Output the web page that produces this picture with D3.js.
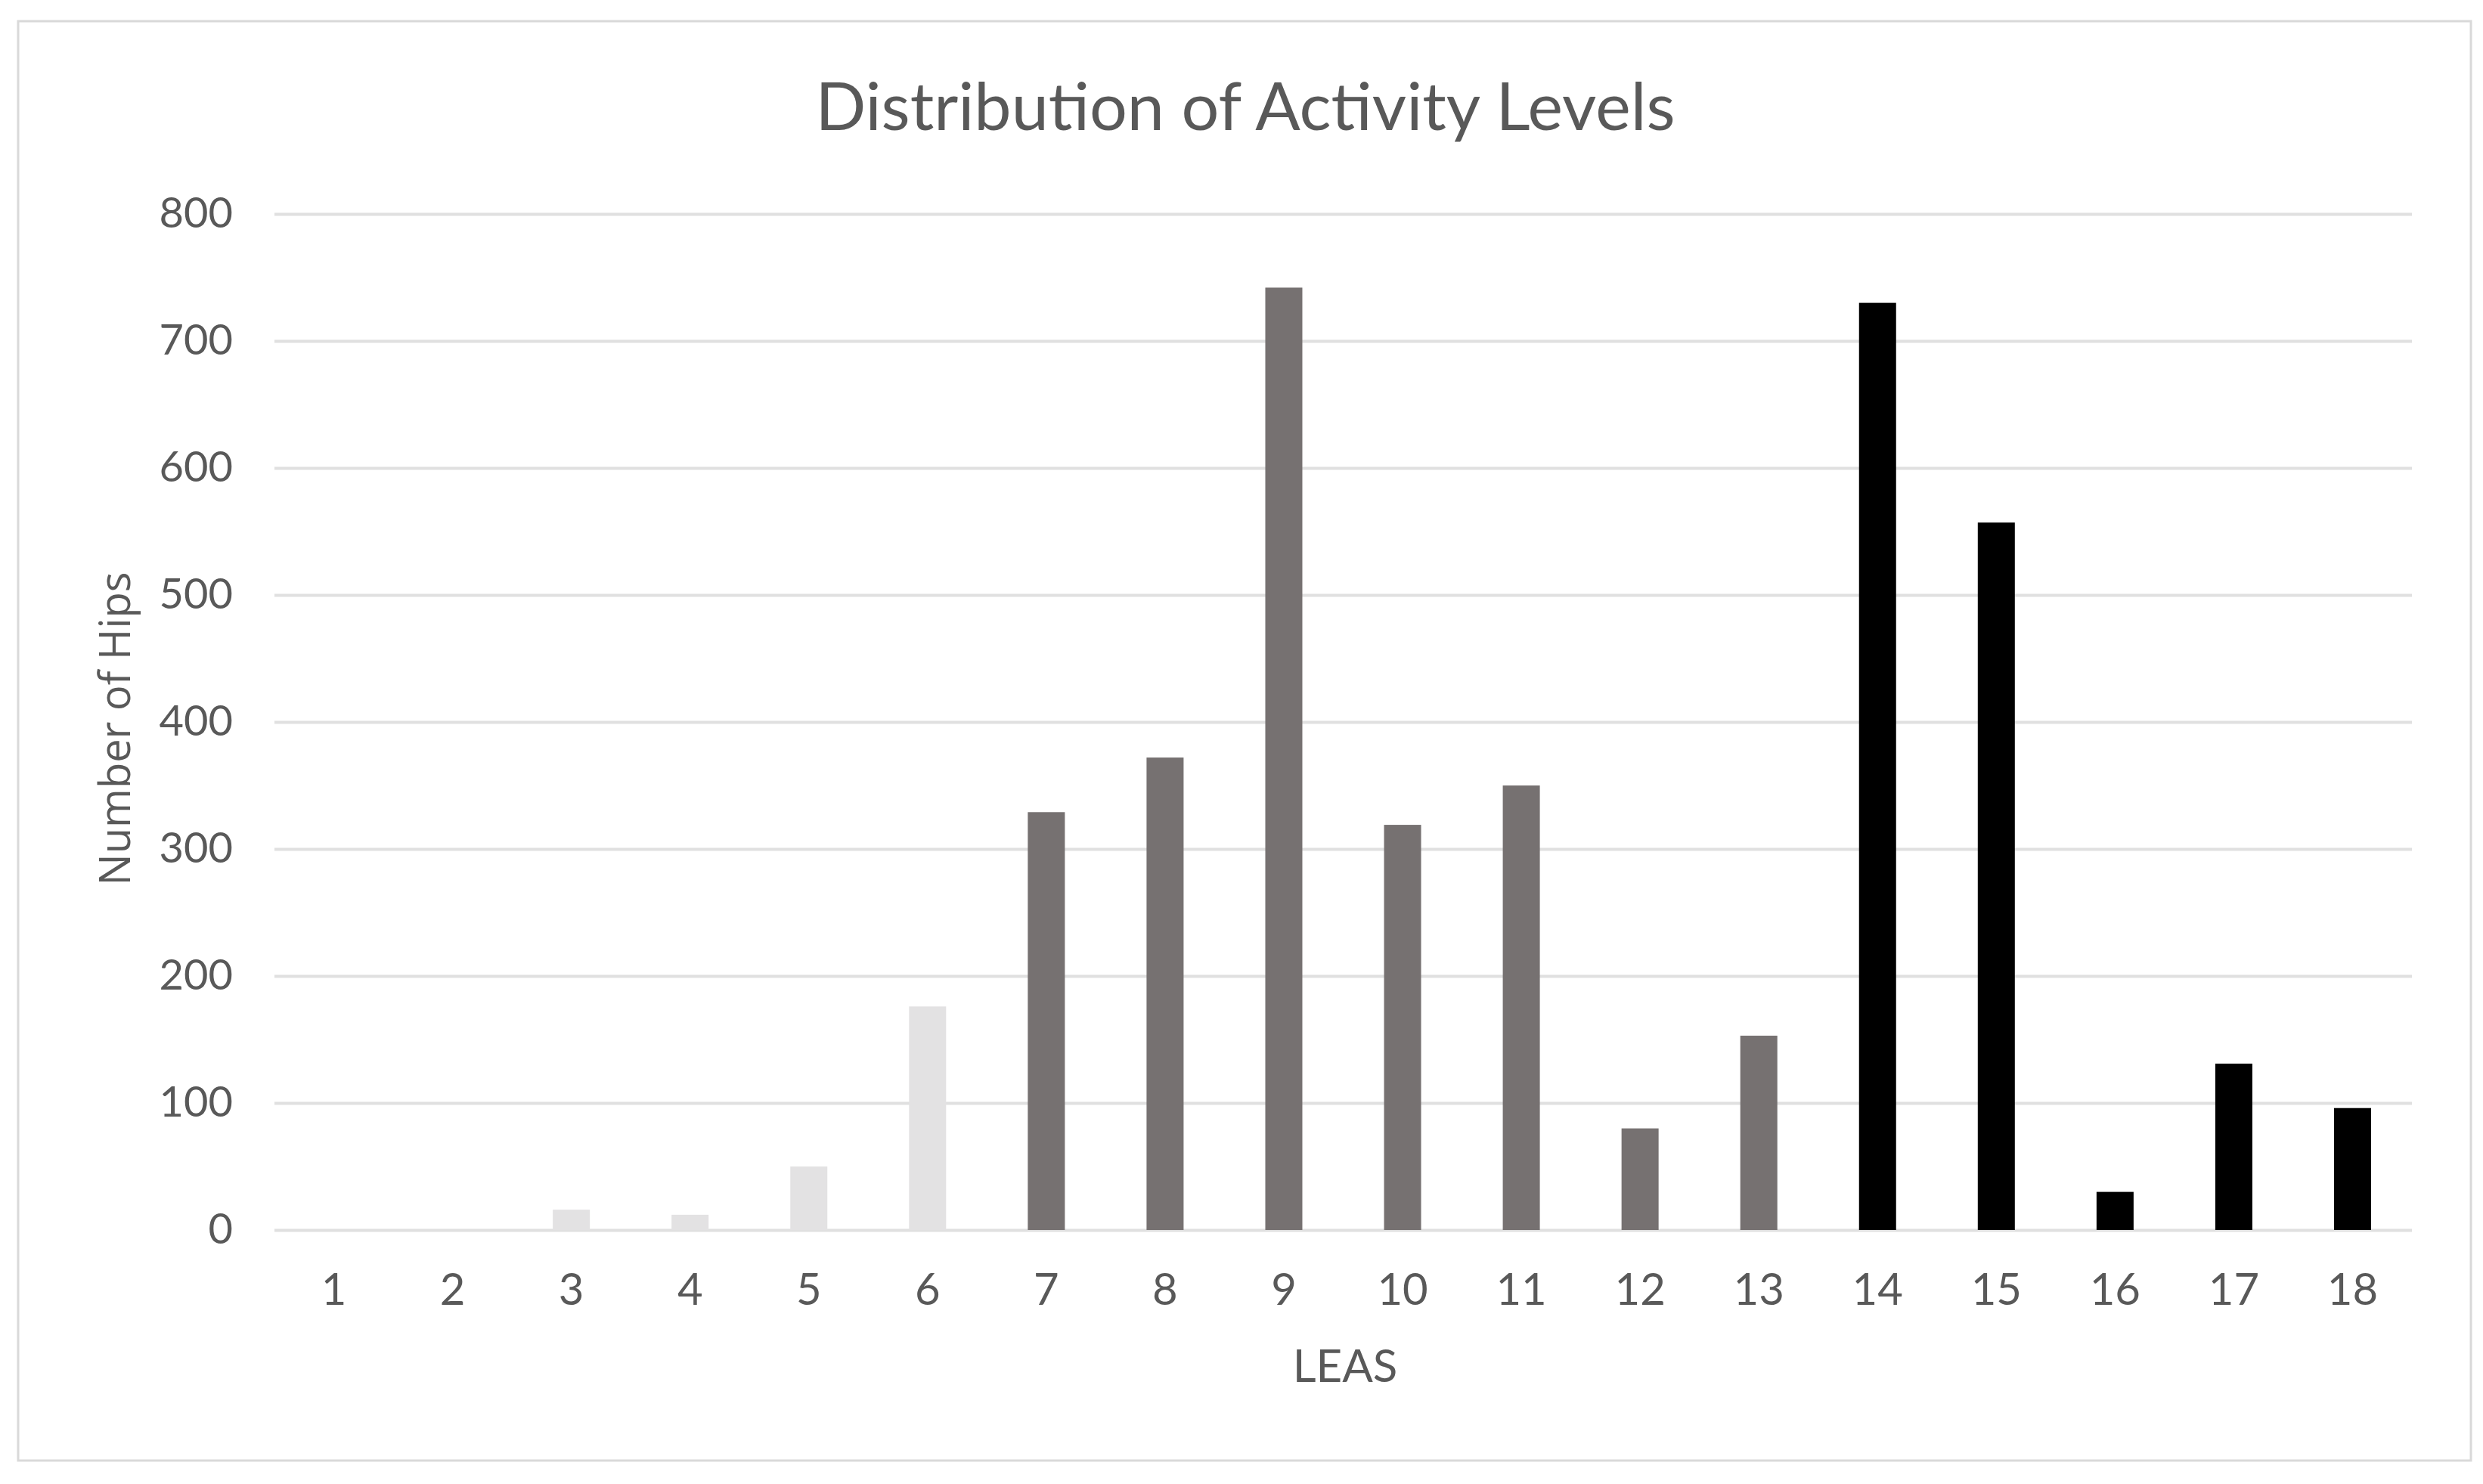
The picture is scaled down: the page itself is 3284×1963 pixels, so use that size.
<!DOCTYPE html>
<html>
<head>
<meta charset="utf-8">
<script src="https://cdn.jsdelivr.net/npm/d3@7"></script>
<style>
  html, body { margin: 0; padding: 0; background: #ffffff; }
  svg { display: block; }
  text { font-family: Lato, "Open Sans", sans-serif; }
</style>
</head>
<body>
<svg id="chart" width="3284" height="1963"></svg>
<script>
// ---- data ----
const categories = ["1","2","3","4","5","6","7","8","9","10","11","12","13","14","15","16","17","18"];
const hips = [0, 0, 16, 12, 50, 176, 329, 372, 742, 319, 350, 80, 153, 730, 557, 30, 131, 96];
const groups = ["low","low","low","low","low","low","mid","mid","mid","mid","mid","mid","mid","high","high","high","high","high"];
const yTicks = [0, 100, 200, 300, 400, 500, 600, 700, 800];
const groupNames = ["low", "mid", "high"];
const groupColors = ["#e3e2e3", "#767171", "#000000"];
const title = "Distribution of Activity Levels";
const xTitle = "LEAS";
const yTitle = "Number of Hips";

// ---- layout ----
const W = 3284, H = 1963;
const plot = { left: 363, right: 3190, top: 283, bottom: 1627 };
const textColor = "#595959";

const svg = d3.select("#chart");

svg.append("rect")
  .attr("x", 0).attr("y", 0).attr("width", W).attr("height", H)
  .attr("fill", "#ffffff");

// outer chart border
svg.append("rect")
  .attr("x", 24).attr("y", 28).attr("width", 3268 - 24).attr("height", 1932 - 28)
  .attr("fill", "none").attr("stroke", "#d9d9d9").attr("stroke-width", 3);

const x = d3.scaleBand()
  .domain(categories)
  .range([plot.left, plot.right])
  .paddingInner(0.688)
  .paddingOuter(0.344);

const y = d3.scaleLinear()
  .domain([0, 800])
  .range([plot.bottom, plot.top]);

const color = d3.scaleOrdinal().domain(groupNames).range(groupColors);

// gridlines via axis
const grid = svg.append("g")
  .attr("transform", `translate(${plot.left},0)`)
  .call(d3.axisLeft(y).tickValues(yTicks).tickSize(-(plot.right - plot.left)).tickFormat(""));
grid.select(".domain").remove();
grid.selectAll(".tick line").attr("stroke", "#e0e0e0").attr("stroke-width", 4);

// y tick labels
const yAxis = svg.append("g")
  .attr("transform", `translate(${plot.left},0)`)
  .call(d3.axisLeft(y).tickValues(yTicks).tickSize(0).tickPadding(55));
yAxis.select(".domain").remove();
yAxis.selectAll("text")
  .attr("fill", textColor)
  .style("font-size", "56px")
  .style("font-family", "Lato, sans-serif");

// bars
svg.append("g").selectAll("rect")
  .data(categories)
  .join("rect")
  .attr("x", d => x(d))
  .attr("width", x.bandwidth())
  .attr("y", (d, i) => y(hips[i]))
  .attr("height", (d, i) => y(0) - y(hips[i]))
  .attr("fill", (d, i) => color(groups[i]));

// x axis labels
const xAxis = svg.append("g")
  .attr("transform", `translate(0,${plot.bottom})`)
  .call(d3.axisBottom(x).tickSize(0).tickPadding(58));
xAxis.select(".domain").remove();
xAxis.selectAll("text")
  .attr("fill", textColor)
  .style("font-size", "58px")
  .style("font-family", "Lato, sans-serif");

// title
svg.append("text")
  .attr("x", 1647).attr("y", 172)
  .attr("text-anchor", "middle")
  .attr("fill", textColor)
  .style("font-size", "88px")
  .text(title);

// x title
svg.append("text")
  .attr("x", 1779).attr("y", 1828)
  .attr("text-anchor", "middle")
  .attr("fill", textColor)
  .style("font-size", "60px")
  .text(xTitle);

// y title
svg.append("text")
  .attr("transform", `translate(172,964) rotate(-90)`)
  .attr("text-anchor", "middle")
  .attr("fill", textColor)
  .style("font-size", "56px")
  .style("font-family", "'Open Sans', sans-serif")
  .text(yTitle);
</script>
</body>
</html>
